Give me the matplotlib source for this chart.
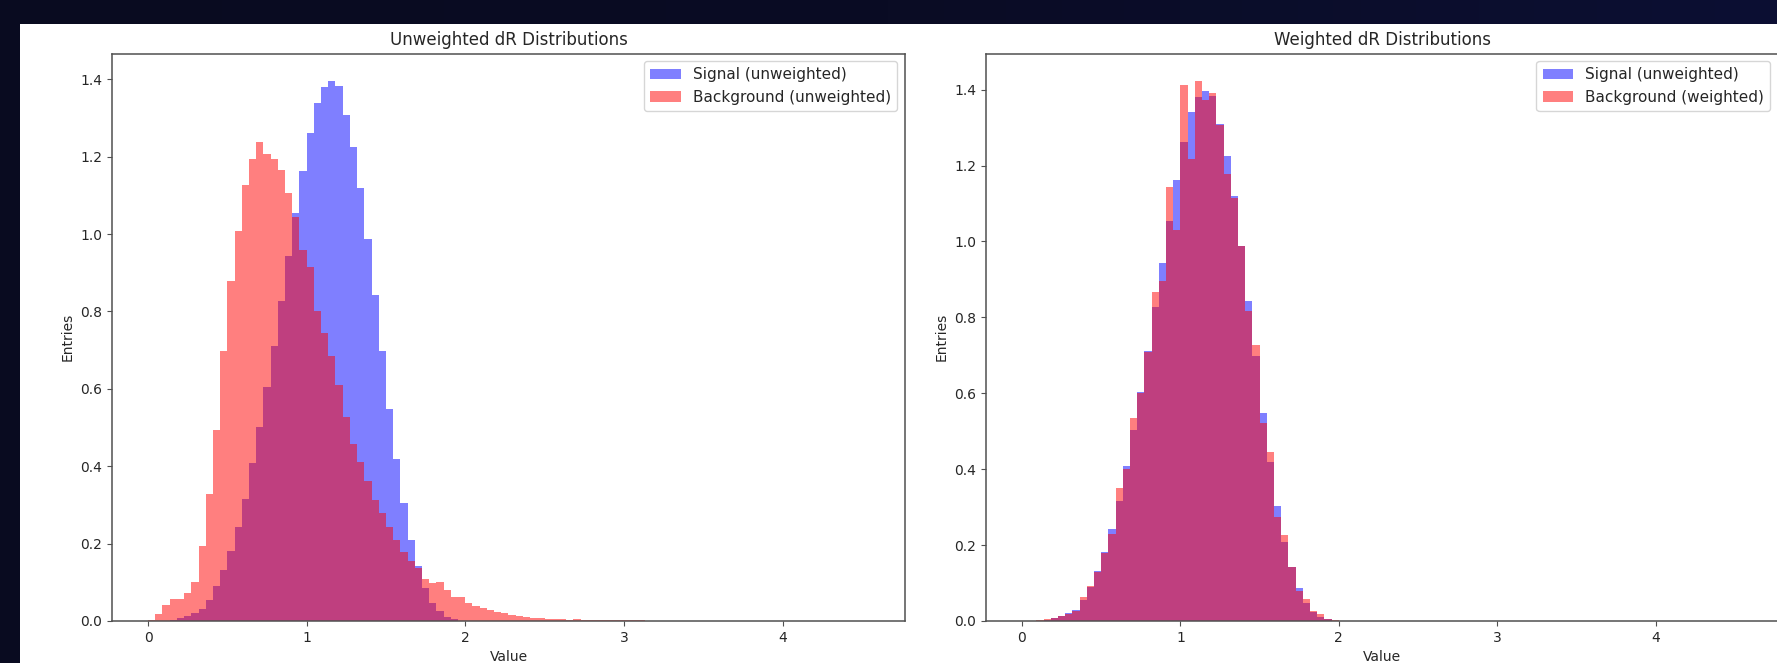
import numpy as np
import matplotlib
matplotlib.use("Agg")
import matplotlib.pyplot as plt
from matplotlib.patches import Rectangle
from matplotlib.colors import LinearSegmentedColormap

# ---------------- data (density per bin, 100 bins over [0, 4.545]) ----------------
value_min = 0.0
value_max = 4.545
n_bins = 100

signal_unweighted = [
    0.000, 0.0005, 0.001, 0.003, 0.008, 0.012, 0.021, 0.030, 0.055, 0.090,
    0.132, 0.181, 0.243, 0.316, 0.408, 0.502, 0.604, 0.712, 0.826, 0.943,
    1.055, 1.162, 1.261, 1.340, 1.380, 1.397, 1.383, 1.309, 1.224, 1.120,
    0.987, 0.843, 0.698, 0.547, 0.419, 0.304, 0.209, 0.141, 0.086, 0.047,
    0.025, 0.011, 0.004, 0.001, 0.0, 0.0, 0.0, 0.0, 0.0, 0.0,
    0.0, 0.0, 0.0, 0.0, 0.0, 0.0, 0.0, 0.0, 0.0, 0.0,
    0.0, 0.0, 0.0, 0.0, 0.0, 0.0, 0.0, 0.0, 0.0, 0.0,
    0.0, 0.0, 0.0, 0.0, 0.0, 0.0, 0.0, 0.0, 0.0, 0.0,
    0.0, 0.0, 0.0, 0.0, 0.0, 0.0, 0.0, 0.0, 0.0, 0.0,
    0.0, 0.0, 0.0, 0.0, 0.0, 0.0, 0.0, 0.0, 0.0, 0.0,
]

background_unweighted = [
    0.002, 0.017, 0.041, 0.056, 0.058, 0.073, 0.100, 0.194, 0.329, 0.494,
    0.698, 0.880, 1.007, 1.128, 1.194, 1.237, 1.208, 1.194, 1.165, 1.105,
    1.045, 0.959, 0.914, 0.800, 0.744, 0.684, 0.609, 0.527, 0.458, 0.410,
    0.362, 0.314, 0.279, 0.243, 0.210, 0.178, 0.156, 0.137, 0.109, 0.098,
    0.100, 0.080, 0.061, 0.061, 0.046, 0.038, 0.033, 0.028, 0.024, 0.020,
    0.016, 0.013, 0.0095, 0.008, 0.007, 0.006, 0.005, 0.004, 0.0035, 0.005,
    0.003, 0.003, 0.0025, 0.002, 0.002, 0.002, 0.0015, 0.0015, 0.0015, 0.0,
    0.0, 0.0, 0.0, 0.0, 0.0, 0.0, 0.0, 0.0, 0.0, 0.0,
    0.0, 0.0, 0.0, 0.0, 0.0, 0.0, 0.0, 0.0, 0.0, 0.0,
    0.0, 0.0, 0.0, 0.0, 0.0, 0.0, 0.0, 0.0, 0.0, 0.0,
]

background_weighted = [
    0.000, 0.001, 0.002, 0.004, 0.008, 0.013, 0.018, 0.027, 0.062, 0.091,
    0.129, 0.180, 0.229, 0.351, 0.400, 0.535, 0.600, 0.710, 0.866, 0.896,
    1.144, 1.029, 1.412, 1.218, 1.424, 1.373, 1.390, 1.307, 1.179, 1.114,
    0.987, 0.818, 0.727, 0.522, 0.446, 0.273, 0.227, 0.141, 0.078, 0.059,
    0.027, 0.018, 0.004, 0.002, 0.0, 0.0, 0.0, 0.0, 0.0, 0.0,
    0.0, 0.0, 0.0, 0.0, 0.0, 0.0, 0.0, 0.0, 0.0, 0.0,
    0.0, 0.0, 0.0, 0.0, 0.0, 0.0, 0.0, 0.0, 0.0, 0.0,
    0.0, 0.0, 0.0, 0.0, 0.0, 0.0, 0.0, 0.0, 0.0, 0.0,
    0.0, 0.0, 0.0, 0.0, 0.0, 0.0, 0.0, 0.0, 0.0, 0.0,
    0.0, 0.0, 0.0, 0.0, 0.0, 0.0, 0.0, 0.0, 0.0, 0.0,
]

titles = ["Unweighted dR Distributions", "Weighted dR Distributions"]
labels_left = ["Signal (unweighted)", "Background (unweighted)"]
labels_right = ["Signal (unweighted)", "Background (weighted)"]
x_label = "Value"
y_label = "Entries"

# ---------------- figure ----------------
W, H, DPI = 1777, 663, 100
fig = plt.figure(figsize=(W / DPI, H / DPI), dpi=DPI)
fig.patch.set_facecolor("#0a0c26")

# dark screenshot background with subtle gradient + white figure panel
bg = fig.add_axes([0, 0, 1, 1], zorder=-10)
grad = np.linspace(0, 1, 256).reshape(1, -1)
cmap = LinearSegmentedColormap.from_list("bgc", ["#090b20", "#0a0c24", "#0c0f33"])
bg.imshow(grad, aspect="auto", cmap=cmap, extent=[0, 1, 0, 1])
bg.add_patch(Rectangle((20 / W, 0), 1 - 20 / W, (H - 24) / H,
                       transform=bg.transAxes, facecolor="white", edgecolor="none"))
bg.set_xlim(0, 1)
bg.set_ylim(0, 1)
bg.axis("off")

edges = np.linspace(value_min, value_max, n_bins + 1)
centers = 0.5 * (edges[:-1] + edges[1:])

bottom = (H - 621) / H
height = (621 - 53.5) / H
ax1 = fig.add_axes([112 / W, bottom, 793 / W, height])
ax2 = fig.add_axes([986 / W, bottom, 792 / W, height])

ax1.hist(centers, bins=edges, weights=signal_unweighted, color="blue", alpha=0.5,
         label=labels_left[0])
ax1.hist(centers, bins=edges, weights=background_unweighted, color="red", alpha=0.5,
         label=labels_left[1])
ax2.hist(centers, bins=edges, weights=signal_unweighted, color="blue", alpha=0.5,
         label=labels_right[0])
ax2.hist(centers, bins=edges, weights=background_weighted, color="red", alpha=0.5,
         label=labels_right[1])

text_col = "#262626"
for ax, t in zip((ax1, ax2), titles):
    ax.set_title(t, color=text_col)
    ax.set_xlabel(x_label, color=text_col)
    ax.set_ylabel(y_label, color=text_col)
    for s in ax.spines.values():
        s.set_edgecolor("#505050")
        s.set_linewidth(1.1)
    ax.tick_params(colors="#505050", labelcolor=text_col)
    leg = ax.legend(loc="upper right", fontsize=11)
    for txt in leg.get_texts():
        txt.set_color(text_col)

fig.savefig("out.png", dpi=DPI, facecolor=fig.get_facecolor())
